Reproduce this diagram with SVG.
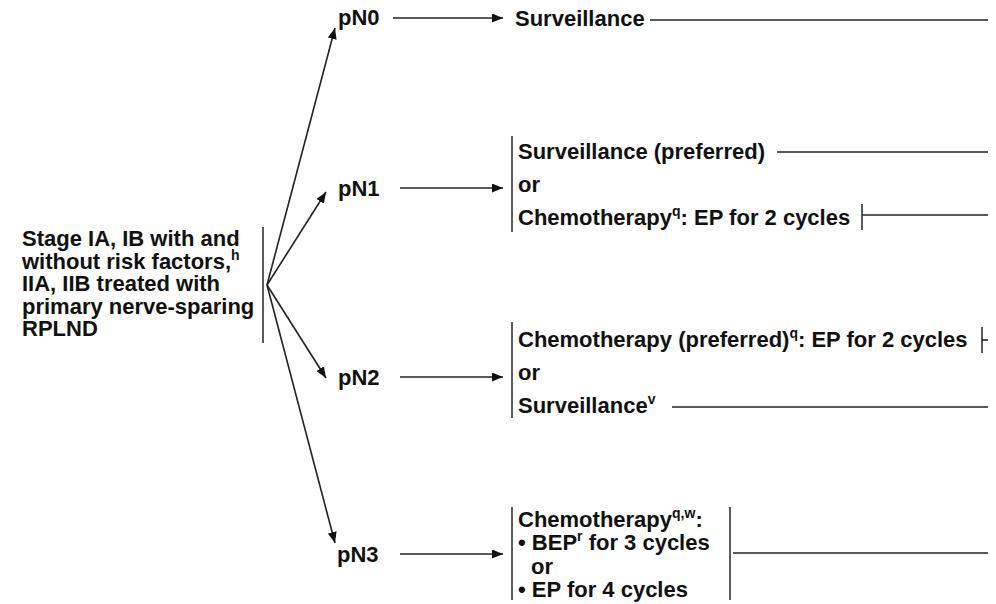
<svg xmlns="http://www.w3.org/2000/svg" width="996" height="604" viewBox="0 0 996 604">
<defs>
<marker id="ah" markerUnits="userSpaceOnUse" markerWidth="12" markerHeight="9" refX="11" refY="4.5" orient="auto">
<path d="M0,0 L11,4.5 L0,9 z" fill="#111"/>
</marker>
<style>
text{font-family:"Liberation Sans",Arial,sans-serif;font-weight:bold;font-size:22px;fill:#111}
.sup{font-size:14px}
.ln{stroke:#222;stroke-width:1.6;fill:none}
.br{stroke:#333;stroke-width:1.6;fill:none}
</style>
</defs>
<rect width="996" height="604" fill="#fff"/>
<g id="start">
<text x="22" y="246">Stage IA, IB with and</text>
<text x="22" y="268.5">without risk factors,<tspan class="sup" dy="-9">h</tspan></text>
<text x="22" y="291">IIA, IIB treated with</text>
<text x="22" y="313.5">primary nerve-sparing</text>
<text x="22" y="336">RPLND</text>
<line class="br" x1="263" y1="227" x2="263" y2="343"/>
</g>
<g id="pN0"><text x="338" y="25">pN0</text></g>
<g id="pN1"><text x="338" y="196">pN1</text></g>
<g id="pN2"><text x="338" y="385">pN2</text></g>
<g id="pN3"><text x="337" y="562">pN3</text></g>
<g id="surv0"><text x="515" y="26">Surveillance</text></g>
<g id="opt1">
<line class="br" x1="512" y1="136" x2="512" y2="232"/>
<text x="518" y="159">Surveillance (preferred)</text>
<text x="518" y="192">or</text>
<text x="518" y="225">Chemotherapy<tspan class="sup" dy="-9">q</tspan><tspan dy="9">: EP for 2 cycles</tspan></text>
</g>
<g id="opt2">
<line class="br" x1="512" y1="322" x2="512" y2="418"/>
<text x="518" y="347">Chemotherapy (preferred)<tspan class="sup" dy="-9">q</tspan><tspan dy="9">: EP for 2 cycles</tspan></text>
<text x="518" y="380">or</text>
<text x="518" y="413">Surveillance<tspan class="sup" dy="-9">v</tspan></text>
</g>
<g id="opt3">
<line class="br" x1="512" y1="507" x2="512" y2="600"/>
<line class="br" x1="730" y1="507" x2="730" y2="600"/>
<text x="518" y="527">Chemotherapy<tspan class="sup" dy="-9">q,w</tspan><tspan dy="9">:</tspan></text>
<text x="518" y="550">• BEP<tspan class="sup" dy="-9">r</tspan><tspan dy="9"> for 3 cycles</tspan></text>
<text x="531" y="574">or</text>
<text x="518" y="597">• EP for 4 cycles</text>
</g>
<g id="connectors">
<line class="ln" x1="267" y1="285" x2="335" y2="28" marker-end="url(#ah)"/>
<line class="ln" x1="267" y1="285" x2="326" y2="192" marker-end="url(#ah)"/>
<line class="ln" x1="267" y1="285" x2="326" y2="378" marker-end="url(#ah)"/>
<line class="ln" x1="267" y1="285" x2="335" y2="543" marker-end="url(#ah)"/>
<line class="ln" x1="393" y1="18" x2="503" y2="18" marker-end="url(#ah)"/>
<line class="ln" x1="400" y1="188" x2="503" y2="188" marker-end="url(#ah)"/>
<line class="ln" x1="400" y1="377" x2="503" y2="377" marker-end="url(#ah)"/>
<line class="ln" x1="400" y1="554" x2="503" y2="554" marker-end="url(#ah)"/>
<line class="ln" x1="650" y1="20" x2="988" y2="20"/>
<line class="ln" x1="777" y1="152" x2="988" y2="152"/>
<line class="br" x1="862" y1="204" x2="862" y2="230"/>
<line class="ln" x1="862" y1="215" x2="988" y2="215"/>
<line class="br" x1="982" y1="327" x2="982" y2="353"/>
<line class="ln" x1="982" y1="340" x2="988" y2="340"/>
<line class="ln" x1="672" y1="407" x2="988" y2="407"/>
<line class="ln" x1="733" y1="553" x2="988" y2="553"/>
</g>
</svg>
